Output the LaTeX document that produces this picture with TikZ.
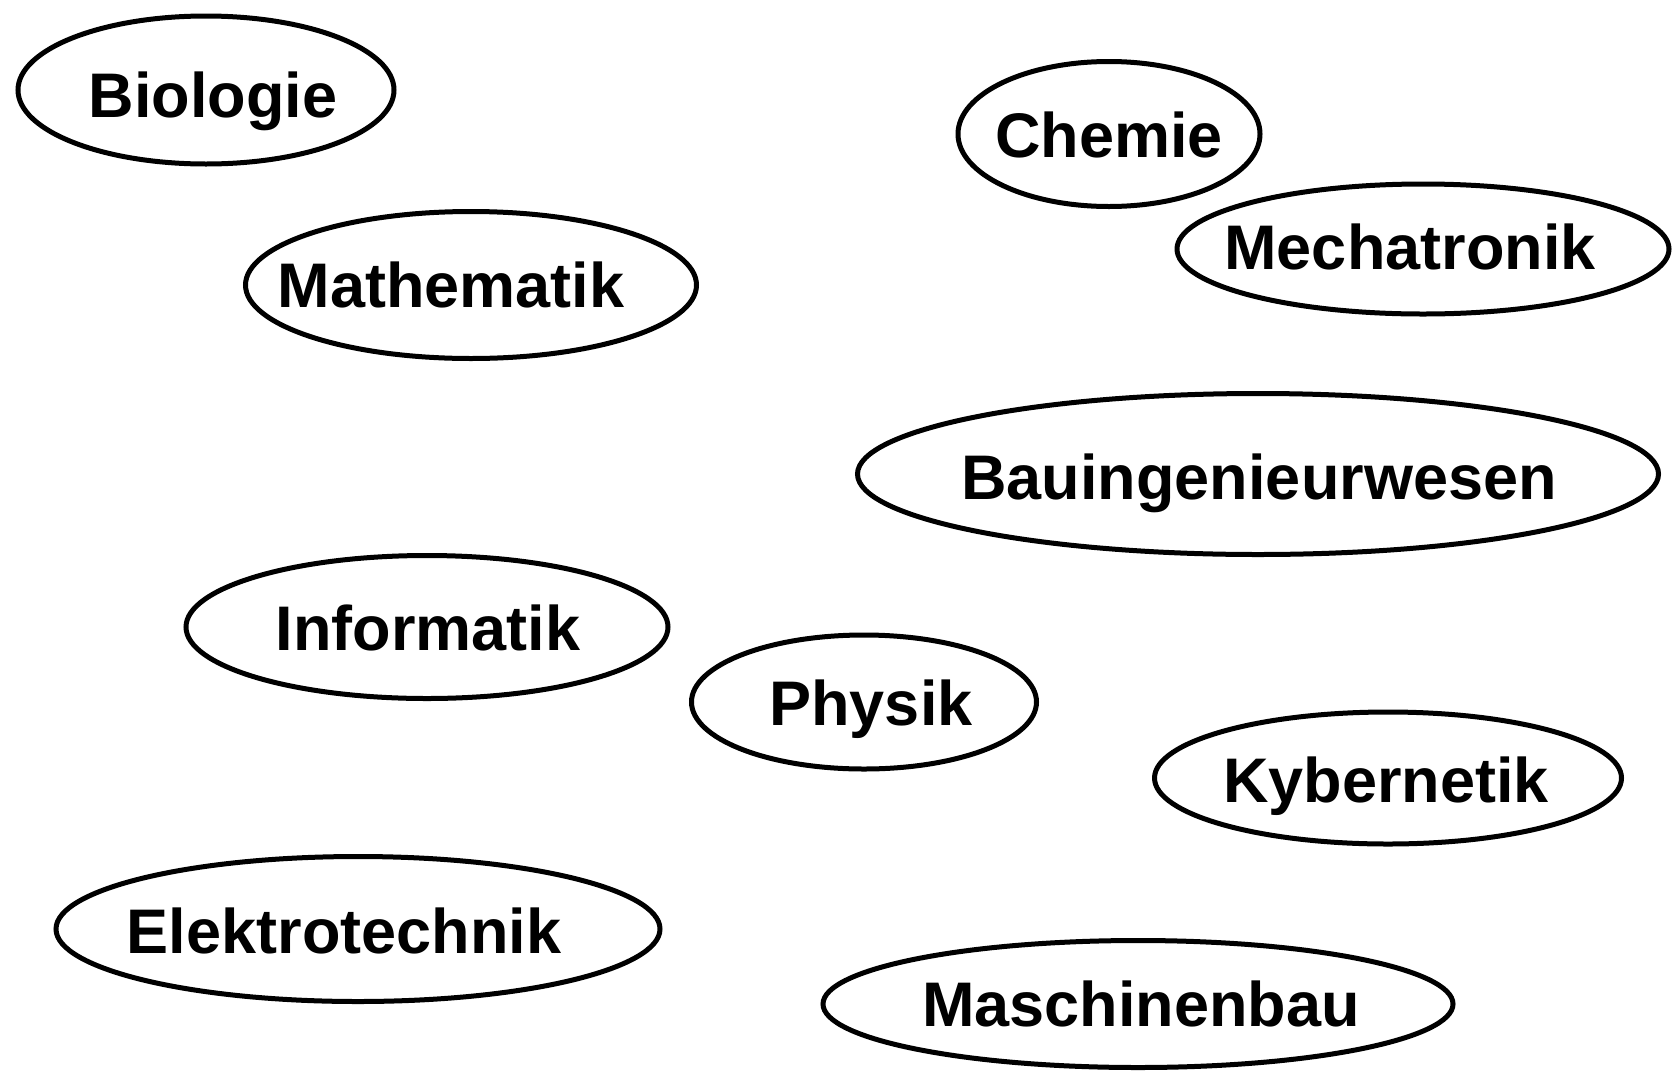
\documentclass[tikz,border=0pt]{standalone}
\usepackage{fontspec}
\setmainfont{Liberation Sans}
\usetikzlibrary{shapes.geometric}
\begin{document}
\begin{tikzpicture}[x=1pt,y=-1pt,
  ell/.style={draw=black, line width=5pt, ellipse, inner sep=0pt},
  lbl/.style={inner sep=0pt, text height=45pt, text depth=0pt, font=\fontsize{63}{70}\selectfont\bfseries}]
\useasboundingbox (0,0) rectangle (1675,1074);
\fill[white] (0,0) rectangle (1675,1074);
\node[ell, minimum width=376pt, minimum height=148pt] (bio) at (206,90) {};
\node[lbl] (biot) at (213,95) {Biologie};
\node[ell, minimum width=451pt, minimum height=147pt] (mat) at (471,285) {};
\node[lbl] (matt) at (451,285) {Mathematik};
\node[ell, minimum width=302pt, minimum height=145pt] (che) at (1109,134) {};
\node[lbl] (chet) at (1109,135) {Chemie};
\node[ell, minimum width=492pt, minimum height=130pt] (mec) at (1423,249) {};
\node[lbl] (mect) at (1410,247) {Mechatronik};
\node[ell, minimum width=801pt, minimum height=161pt] (bau) at (1258,474) {};
\node[lbl] (baut) at (1259,477) {Bauingenieurwesen};
\node[ell, minimum width=482pt, minimum height=143pt] (inf) at (427,627) {};
\node[lbl] (inft) at (428,628) {Informatik};
\node[ell, minimum width=345pt, minimum height=134pt] (phy) at (864,702) {};
\node[lbl] (phyt) at (871,703) {Physik};
\node[ell, minimum width=467pt, minimum height=132pt] (kyb) at (1388,778) {};
\node[lbl] (kybt) at (1386,780) {Kybernetik};
\node[ell, minimum width=604pt, minimum height=145pt] (ele) at (358,929) {};
\node[lbl] (elet) at (344,931) {Elektrotechnik};
\node[ell, minimum width=630pt, minimum height=127pt] (mas) at (1138,1004) {};
\node[lbl] (mast) at (1141,1004) {Maschinenbau};
\end{tikzpicture}
\end{document}
